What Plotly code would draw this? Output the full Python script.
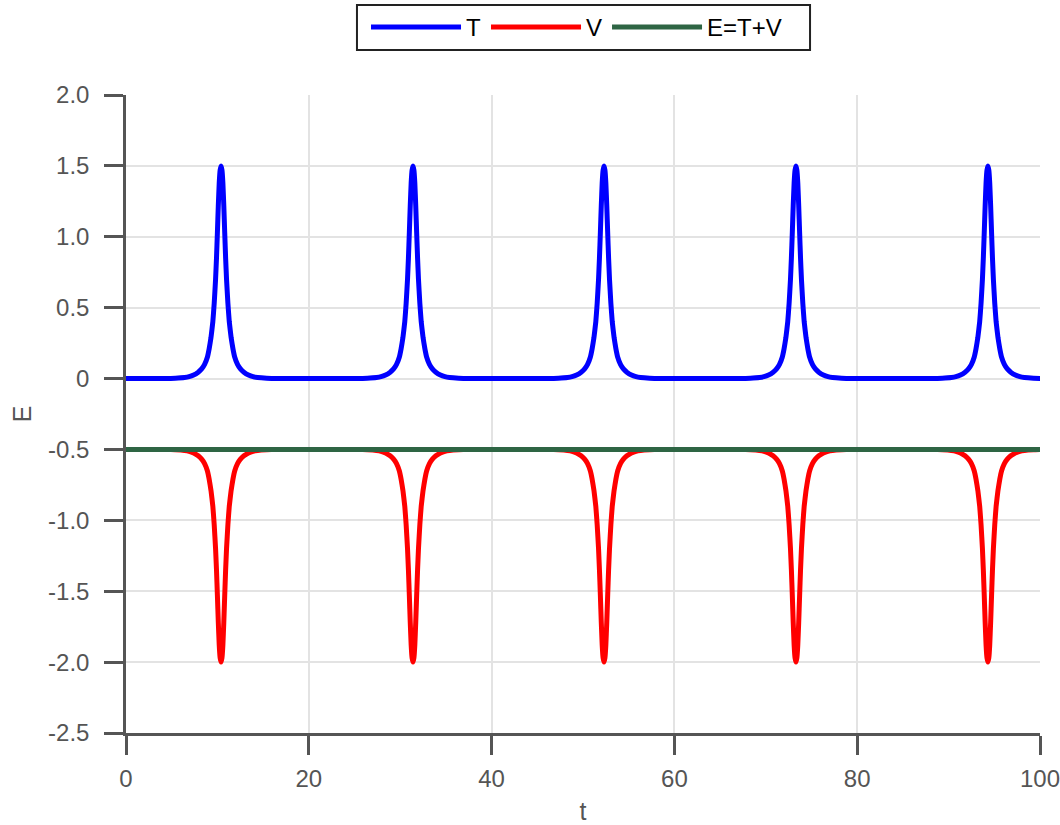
import plotly.graph_objects as go

# Peak times (t)
peak_times = [10.4, 31.4, 52.3, 73.3, 94.3]
# One-sided peak profile: offset from the peak centre and the T / V values there
profile_dt = [0.0, 0.1, 0.2, 0.3, 0.4, 0.5, 0.6, 0.75, 0.9, 1.1, 1.3, 1.5, 1.8, 2.1, 2.5, 3.0, 3.5, 4.0, 5.0, 6.0]
profile_T = [1.5, 1.47, 1.38, 1.22, 1.03, 0.85, 0.70, 0.53, 0.40, 0.29, 0.21, 0.15, 0.10, 0.07,
             0.045, 0.025, 0.013, 0.007, 0.002, 0.0]
profile_V = [-2.0, -1.97, -1.88, -1.72, -1.53, -1.35, -1.20, -1.03, -0.90, -0.79, -0.71, -0.65,
             -0.60, -0.57, -0.545, -0.525, -0.513, -0.507, -0.502, -0.5]
t_range = [0, 100]
E_values = [-0.5, -0.5]
T_base = 0.0
V_base = -0.5

y_tickvals = [2.0, 1.5, 1.0, 0.5, 0.0, -0.5, -1.0, -1.5, -2.0, -2.5]
y_ticktext = ["2.0", "1.5", "1.0", "0.5", "0", "-0.5", "-1.0", "-1.5", "-2.0", "-2.5"]
x_tickvals = [0, 20, 40, 60, 80, 100]

# assemble the series from the read profile
t, T, V = [t_range[0]], [T_base], [V_base]
for c in peak_times:
    for dt, a, b in zip(reversed(profile_dt[1:]), reversed(profile_T[1:]), reversed(profile_V[1:])):
        t.append(c - dt); T.append(a); V.append(b)
    for dt, a, b in zip(profile_dt, profile_T, profile_V):
        t.append(c + dt); T.append(a); V.append(b)
t.append(t_range[1]); T.append(T_base); V.append(V_base)

font = "Liberation Sans, Arial, Helvetica, sans-serif"
fig = go.Figure()
fig.add_trace(go.Scatter(x=t, y=T, mode="lines", name="T",
                         line=dict(color="#0000ff", width=5, shape="spline", smoothing=0.3)))
fig.add_trace(go.Scatter(x=t, y=V, mode="lines", name="V",
                         line=dict(color="#ff0000", width=5, shape="spline", smoothing=0.3)))
fig.add_trace(go.Scatter(x=t_range, y=E_values, mode="lines", name="E=T+V",
                         line=dict(color="#2e6544", width=5)))

axis_common = dict(showgrid=True, gridcolor="#e3e3e3", gridwidth=2,
                   showline=True, linecolor="#555555", linewidth=2.5,
                   ticks="outside", ticklen=19, tickwidth=2.5, tickcolor="#555555",
                   zeroline=False, automargin=False, ticklabeloverflow="allow",
                   tickfont=dict(family=font, size=24, color="#555555"),
                   title_font=dict(family=font, size=25, color="#555555"))

fig.update_layout(
    width=1060, height=825,
    margin=dict(l=126, r=20, t=95, b=92, autoexpand=False),
    paper_bgcolor="white", plot_bgcolor="white",
    showlegend=True,
    legend=dict(orientation="h", x=0.2626, xanchor="left", y=1.1411, yanchor="top",
                borderwidth=0, bgcolor="rgba(0,0,0,0)",
                font=dict(family=font, size=24, color="#000000"),
                itemwidth=90, tracegroupgap=0),
    shapes=[dict(type="rect", xref="paper", yref="paper",
                 x0=0.2527, x1=0.7484, y0=1.0705, y1=1.1411,
                 line=dict(color="#222222", width=2), fillcolor="rgba(0,0,0,0)", layer="below")],
    xaxis=dict(range=t_range, tickvals=x_tickvals, ticklabelstandoff=3,
               title=dict(text="t", standoff=20), **axis_common),
    yaxis=dict(range=[-2.5, 2.0], tickvals=y_tickvals, ticktext=y_ticktext, ticklabelstandoff=10,
               title=dict(text="E", standoff=10), **axis_common),
)

fig.write_html("out.html", config={"displayModeBar": False},
               post_script="document.body.style.margin='0px';")
